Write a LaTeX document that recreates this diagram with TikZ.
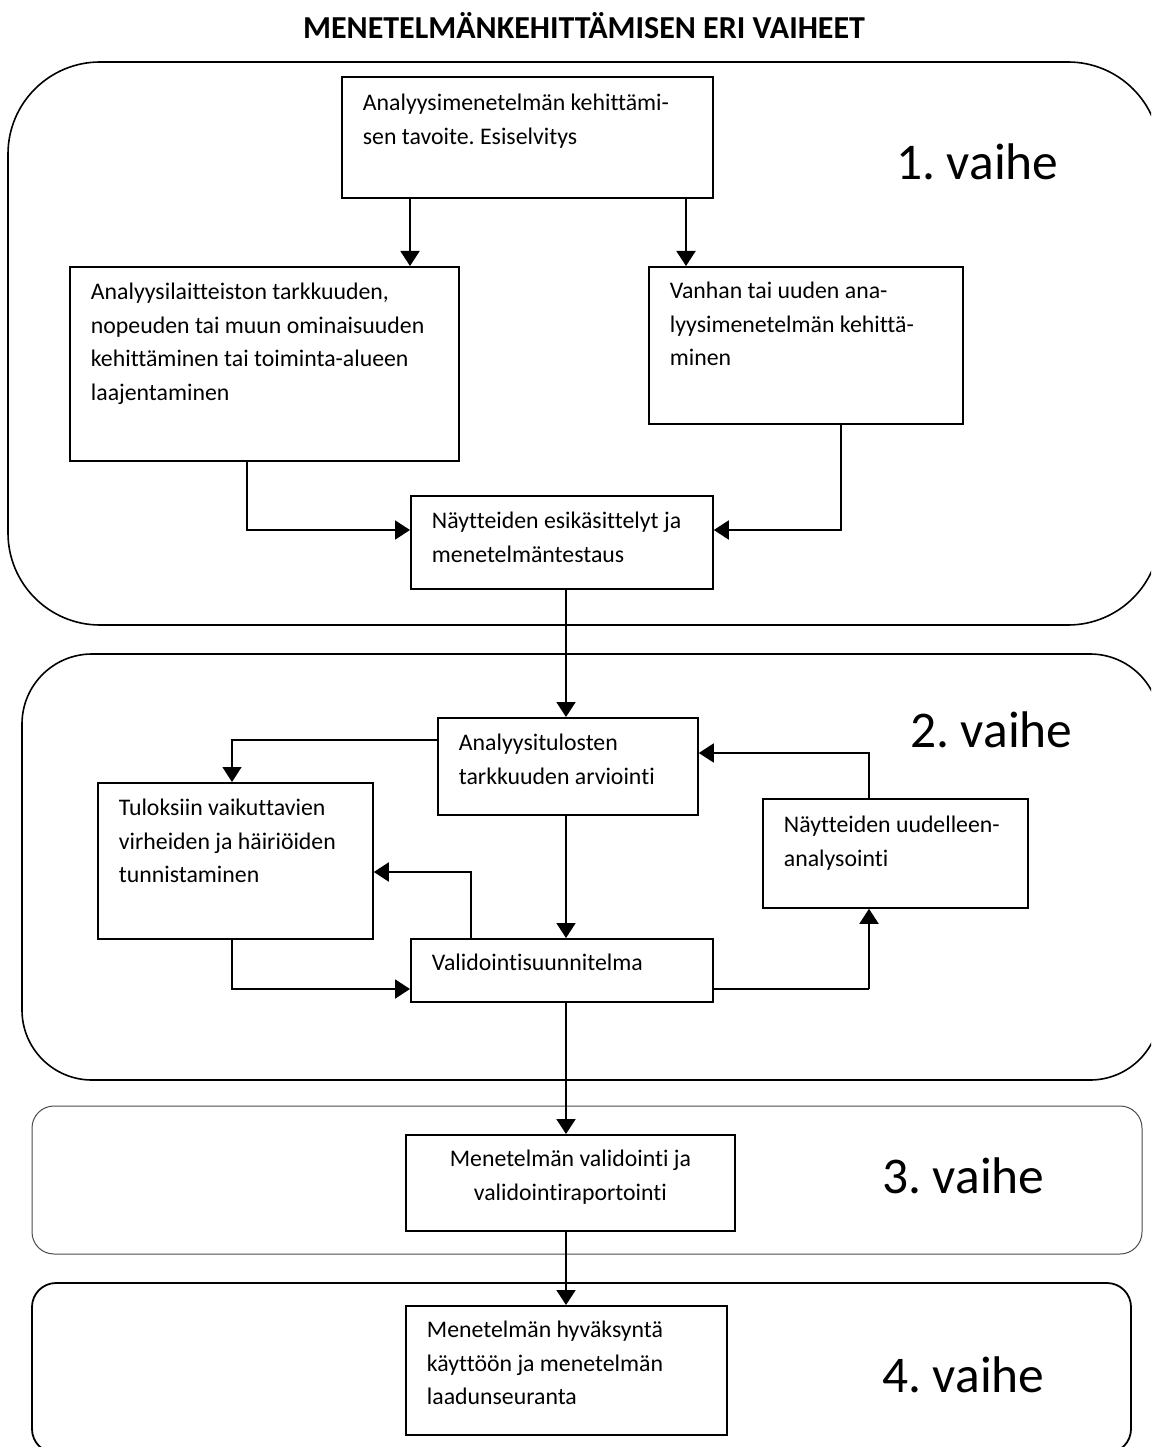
\documentclass[tikz,border=0pt]{standalone}
\usepackage{fontspec}
\setmainfont{Carlito}[Ligatures={NoCommon}]
\usetikzlibrary{arrows.meta}
\frenchspacing
\newcommand\lpad{\raggedright\leftskip=21pt\relax}
\newcommand\cpad{\centering}
\newcommand\boxtxt[5]{\parbox[t][#2][t]{#1}{\fontsize{23.8}{33.5}\selectfont\frenchspacing#4\rule{0pt}{#3}#5}}
\tikzset{
  pbox/.style={draw, line width=1.8pt, anchor=north west, inner sep=0pt},
  arr/.style={line width=1.9pt, -{Triangle[width=19pt,length=15pt]}},
  thinarr/.style={line width=1.3pt, -{Triangle[width=19pt,length=15pt]}},
  phase/.style={draw, line width=1.6pt},
  lab/.style={anchor=base west, inner sep=0pt, font=\fontsize{51.5}{60}\selectfont},
}
\begin{document}
\begin{tikzpicture}[x=1pt, y=-1pt]
\useasboundingbox (0,0) rectangle (1151,1447);
\clip (0,0) rectangle (1151,1447);
\fill[white] (0,0) rectangle (1151,1447);

% title
\node[anchor=base, inner sep=0pt, font=\fontsize{32}{38}\selectfont\bfseries] (title) at (584,39) {MENETELMÄNKEHITTÄMISEN ERI VAIHEET};

% phase frames
\draw[phase] (8,62) [rounded corners=92pt] rectangle (1160,625);
\draw[phase] (22,654) [rounded corners=70pt] rectangle (1160,1080);
\draw[line width=1pt, draw=black!70] (32,1106) [rounded corners=22pt] rectangle (1142,1254);
\draw[line width=1.8pt] (32,1283) [rounded corners=24pt] rectangle (1131,1453);

% phase labels
\node[lab] (l1) at (896,180) {1. vaihe};
\node[lab] (l2) at (910,747) {2. vaihe};
\node[lab] (l3) at (882,1193) {3. vaihe};
\node[lab] (l4) at (882,1392) {4. vaihe};

% boxes
\node[pbox] (A) at (341,76) {\boxtxt{371pt}{121pt}{34pt}{\lpad}{Analyysimenetelmän kehittämi-\\sen tavoite. Esiselvitys}};
\node[pbox] (B) at (69,266) {\boxtxt{389pt}{194pt}{33pt}{\lpad}{Analyysilaitteiston tarkkuuden,\\nopeuden tai muun ominaisuuden\\kehittäminen tai toiminta-alueen\\laajentaminen}};
\node[pbox] (C) at (648,266) {\boxtxt{314pt}{157pt}{32pt}{\lpad}{Vanhan tai uuden ana-\\lyysimenetelmän kehittä-\\minen}};
\node[pbox] (D) at (410,495) {\boxtxt{302pt}{93pt}{33pt}{\lpad}{Näytteiden esikäsittelyt ja\\menetelmäntestaus}};
\node[pbox] (E) at (437,717) {\boxtxt{260pt}{97pt}{33pt}{\lpad}{Analyysitulosten\\tarkkuuden arviointi}};
\node[pbox] (F) at (97,782) {\boxtxt{275pt}{156pt}{33pt}{\lpad}{Tuloksiin vaikuttavien\\virheiden ja häiriöiden\\tunnistaminen}};
\node[pbox] (G) at (762,798) {\boxtxt{265pt}{109pt}{34pt}{\lpad}{Näytteiden uudelleen-\\analysointi}};
\node[pbox] (V) at (410,938) {\boxtxt{302pt}{63pt}{32pt}{\lpad}{Validointisuunnitelma}};
\node[pbox] (H) at (405,1134) {\boxtxt{329pt}{96pt}{32pt}{\cpad}{Menetelmän validointi ja\\validointiraportointi}};
\node[pbox] (I) at (405,1305) {\boxtxt{321pt}{129pt}{32pt}{\lpad}{Menetelmän hyväksyntä\\käyttöön ja menetelmän\\laadunseuranta}};

% helper coordinates
\coordinate (xab) at (410,0);
\coordinate (xac) at (686,0);
\coordinate (xb) at (247,0);
\coordinate (xc) at (841,0);
\coordinate (xm) at (566,0);
\coordinate (xf) at (232,0);
\coordinate (xv) at (471,0);
\coordinate (xg) at (869,0);
\coordinate (yd) at (0,530);
\coordinate (ye) at (0,740);
\coordinate (yg) at (0,753);
\coordinate (yf) at (0,872);
\coordinate (yv) at (0,989);

% connectors
\draw[arr] (A.south -| xab) -- (B.north -| xab);
\draw[arr] (A.south -| xac) -- (C.north -| xac);
\draw[arr] (B.south -| xb) |- (D.west |- yd);
\draw[arr] (C.south -| xc) |- (D.east |- yd);
\draw[arr] (D.south -| xm) -- (E.north -| xm);
\draw[thinarr] (E.west |- ye) -| (F.north -| xf);
\draw[arr] (E.south -| xm) -- (V.north -| xm);
\draw[arr] (V.north -| xv) |- (F.east |- yf);
\draw[arr] (F.south -| xf) |- (V.west |- yv);
\draw[line width=1.1pt] (V.east |- yv) -- (xg |- yv);
\draw[arr] (xg |- yv) -- (G.south -| xg);
\draw[arr] (G.north -| xg) |- (E.east |- yg);
\draw[arr] (V.south -| xm) -- (H.north -| xm);
\draw[arr] (H.south -| xm) -- (I.north -| xm);
\end{tikzpicture}
\end{document}
